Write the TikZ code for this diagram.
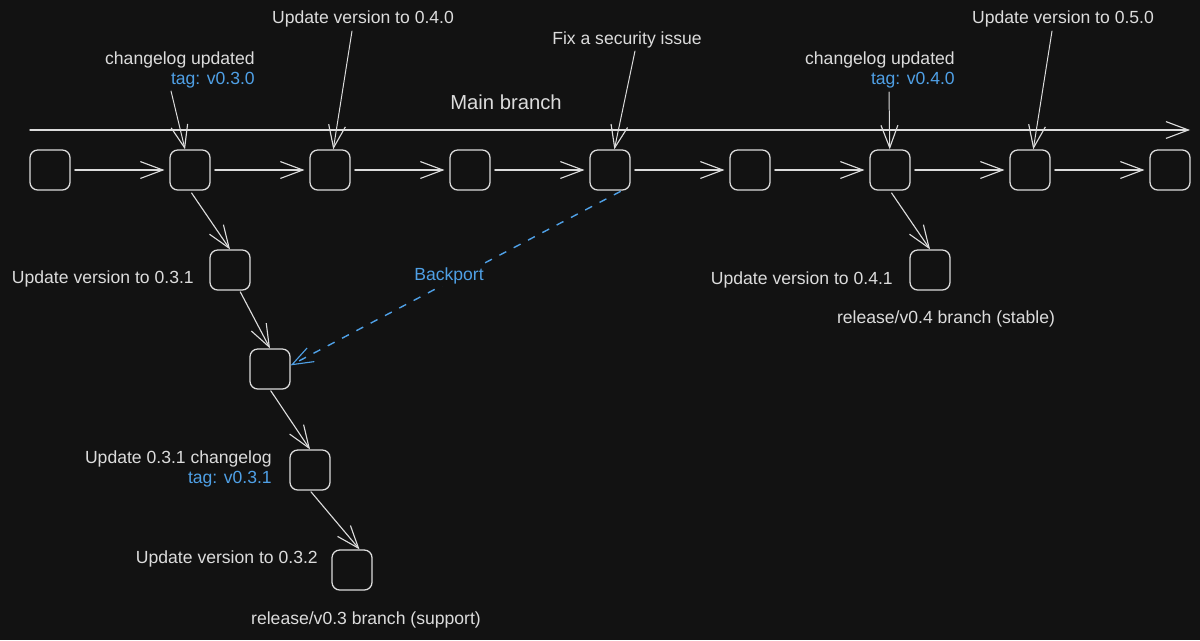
\documentclass[tikz,border=0pt]{standalone}
\usepackage{fontspec}
\setmainfont{Liberation Sans}
\usetikzlibrary{arrows.meta}
\definecolor{bg}{HTML}{121212}
\definecolor{ink}{HTML}{DCDCDC}
\definecolor{tagblue}{HTML}{4FA0E6}
\begin{document}
\begin{tikzpicture}[x=0.025cm,y=-0.025cm,
  commit/.style={draw=ink, line width=0.9pt, rounded corners=5.5pt, minimum size=1cm, inner sep=0pt},
  lbl/.style={text=ink, font=\fontsize{12.5}{14.2}\selectfont, inner sep=0pt},
  tagtxt/.style={text=tagblue, font=\fontsize{12.5}{14.2}\selectfont, inner sep=0pt},
  link/.style={draw=ink, line width=0.8pt, line cap=round, -{Straight Barb[length=16pt,width=12pt,line width=0.8pt]}},
  note/.style={link, line width=0.7pt},
  backport/.style={draw=tagblue, line width=1pt, dash pattern=on 5.5pt off 6pt, -{Straight Barb[length=15pt,width=11pt,line width=0.8pt]}}
]
\fill[bg] (0,0) rectangle (1200,640);
\useasboundingbox (0,0) rectangle (1200,640);

% main branch commits
\foreach \i/\x in {1/50,2/190,3/330,4/470,5/610,6/750,7/890,8/1030,9/1170}
  \node[commit] (b\i) at (\x,170) {};
\foreach \a/\b in {1/2,2/3,3/4,4/5,5/6,6/7,7/8,8/9}
  \draw[link, shorten <=3pt, shorten >=3.5pt] (b\a) -- (b\b);

% main branch line
\coordinate (ms) at (30,130);
\coordinate (me) at (1190,130);
\draw[link, line width=1pt] (ms) -- (me);
\node[lbl, font=\fontsize{14.4}{17}\selectfont] (mainlbl) at (506,102) {Main branch};

% release/v0.3 branch
\node[commit] (c1) at (230,270) {};
\node[commit] (c2) at (270,369) {};
\node[commit] (c3) at (310,470) {};
\node[commit] (c4) at (352,570) {};
\draw[link, shorten <=2pt] (b2.south) -- (c1.north);
\draw[link, shorten <=1pt] (c1.-65) -- (c2.north);
\draw[link, shorten <=1pt] (c2.south) -- (c3.north);
\draw[link, shorten <=1pt] (c3.south) -- (c4.70);

% release/v0.4 branch
\node[commit] (d1) at (930,270) {};
\draw[link, shorten <=2pt] (b7.south) -- (d1.north);

% backport
\draw[backport, shorten <=1pt] (b5.-60) -- (c2.10);
\node[tagtxt, fill=bg, inner xsep=0.5pt, inner ysep=1.5pt] (bp) at (449,276) {Backport};

% annotations on the main branch
\node[lbl, align=right, anchor=east] (n2) at (255,70) {changelog updated\\\textcolor{tagblue}{tag: v0.3.0}};
\coordinate (a2) at (171,91);
\draw[note] (a2) -- (b2);

\node[lbl] (n3) at (363,19) {Update version to 0.4.0};
\coordinate (a3) at (352,31);
\draw[note] (a3) -- (b3);

\node[lbl] (n5) at (627,40) {Fix a security issue};
\coordinate (a5) at (635,51);
\draw[note] (a5) -- (b5);

\node[lbl, align=right, anchor=east] (n7) at (955,70) {changelog updated\\\textcolor{tagblue}{tag: v0.4.0}};
\coordinate (a7) at (889,92);
\draw[note] (a7) -- (b7);

\node[lbl] (n8) at (1063,19) {Update version to 0.5.0};
\coordinate (a8) at (1052,31);
\draw[note] (a8) -- (b8);

% branch labels
\node[lbl, anchor=east] (lc1) at (194,279) {Update version to 0.3.1};
\node[lbl, align=right, anchor=east] (lc3) at (272,469) {Update 0.3.1 changelog\\\textcolor{tagblue}{tag: v0.3.1}};
\node[lbl, anchor=east] (lc4) at (318,559) {Update version to 0.3.2};
\node[lbl] (br3) at (366,620) {release/v0.3 branch (support)};
\node[lbl, anchor=east] (ld1) at (893,280) {Update version to 0.4.1};
\node[lbl] (br4) at (946,319) {release/v0.4 branch (stable)};
\end{tikzpicture}
\end{document}
